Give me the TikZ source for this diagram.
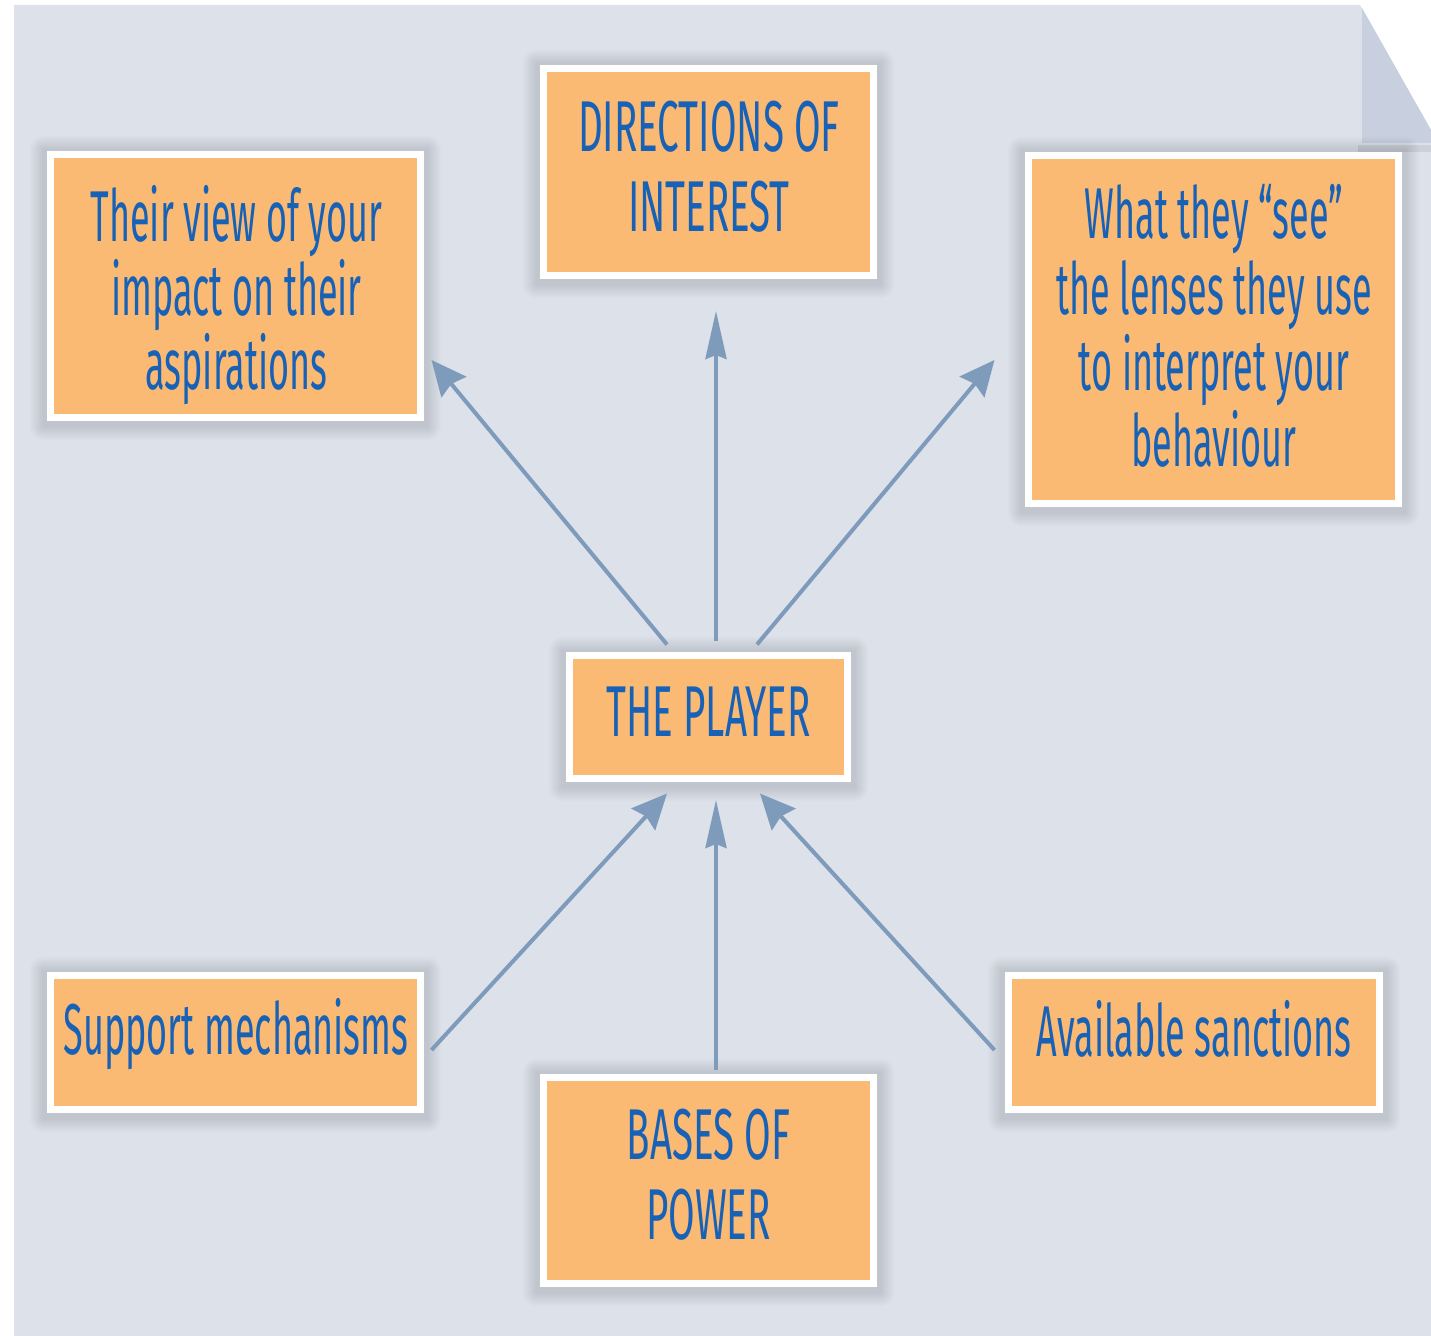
\documentclass[tikz,border=0pt]{standalone}
\usepackage{fontspec}
\setmainfont[FakeStretch=0.5]{Fira Sans}
\newfontfamily\capsfont[FakeStretch=0.535]{Fira Sans}
\usetikzlibrary{arrows.meta,calc}
\definecolor{panel}{HTML}{DCE1EA}
\definecolor{fold}{HTML}{C8D0DF}
\definecolor{boxfill}{HTML}{FBBA73}
\definecolor{ink}{HTML}{1761B6}
\definecolor{link}{HTML}{7E9BBC}
\pgfdeclarelayer{back}
\pgfdeclarelayer{shade}
\pgfsetlayers{back,shade,main}
% first line strut: the top of every text block lies 30pt above its first baseline
\newcommand{\firstline}{\rule{0pt}{30pt}}
% soft halo under a card: stacked translucent rectangles growing outwards
\newcommand{\softshadow}[1]{%
  \begin{pgfonlayer}{shade}
    \foreach \d in {1,...,14}{
      \fill[black, opacity=0.009, rounded corners={0.5pt*\d}]
        ($(#1.south west)+(-3.5-\d,5.5+\d)$) rectangle ($(#1.north east)+(3.5+\d,-1.5-\d)$);
    }
  \end{pgfonlayer}}
\tikzset{
  card/.style={draw=white, line width=3.5pt, fill=boxfill, inner sep=0pt},
  cardtext/.style={anchor=north, inner sep=0pt, align=center, text=ink},
  skip/.style={font=\fontsize{36pt}{#1}\selectfont},
  capskip/.style={font=\capsfont\fontsize{36pt}{#1}\selectfont},
  link/.style={draw=link, line width=2pt, -{Stealth[length=17.5pt,width=16pt,inset=2pt]}},
  vlink/.style={draw=link, line width=2pt, -{Stealth[length=24pt,width=10.5pt,inset=2pt]}}
}
\begin{document}
\begin{tikzpicture}[x=0.5pt,y=-0.5pt]
\useasboundingbox (0,0) rectangle (1431,1336);
% folded sheet behind the diagram
\begin{pgfonlayer}{back}
\fill[panel] (14,5) -- (1360,5) -- (1431,130) -- (1431,1336) -- (14,1336) -- cycle;
\fill[black, opacity=0.07] (1358,145) -- (1431,145) -- (1431,152) -- (1358,152) -- cycle;
\fill[fold] (1362,8) -- (1431,130) -- (1431,143) -- (1362,143) -- cycle;
\end{pgfonlayer}

% boxes (sizes in pt: half the outer pixel size minus the white frame)
\node[card, minimum width=185pt, minimum height=131.5pt] (tl) at (235.5,286) {};
\node[card, minimum width=165pt, minimum height=103.5pt] (tc) at (708.5,172) {};
\node[card, minimum width=185pt, minimum height=174pt]   (tr) at (1213.5,329.5) {};
\node[card, minimum width=139pt, minimum height=61.5pt]  (pl) at (708.5,717) {};
\node[card, minimum width=185pt, minimum height=67pt]    (bl) at (235.5,1042.5) {};
\node[card, minimum width=165pt, minimum height=103pt]   (bc) at (708.5,1180.5) {};
\node[card, minimum width=185.5pt, minimum height=67pt]  (br) at (1194,1042.5) {};
\softshadow{tl}\softshadow{tc}\softshadow{tr}\softshadow{pl}
\softshadow{bl}\softshadow{bc}\softshadow{br}

% box texts
\node[cardtext, skip=37pt] (tl-text) at ($(tl.center)+(1,-105)$)
  {\firstline Their view of your\\impact on their\\aspirations};
\node[cardtext, capskip=40pt] (tc-text) at ($(tc.center)+(0.5,-81)$)
  {\firstline DIRECTIONS OF\\INTEREST};
\node[cardtext, skip=38pt] (tr-text) at ($(tr.center)+(0.5,-151)$)
  {\firstline What they “see”\\the lenses they use\\to interpret your\\behaviour};
\node[cardtext, capskip=38pt] (pl-text) at ($(pl.center)+(0,-40.5)$)
  {\firstline THE PLAYER};
\node[cardtext, skip=38pt] (bl-text) at ($(bl.center)+(0.5,-48.5)$)
  {\firstline Support mechanisms};
\node[cardtext, capskip=40pt] (bc-text) at ($(bc.center)+(0,-81.5)$)
  {\firstline BASES OF\\POWER};
\node[cardtext, skip=38pt] (br-text) at ($(br.center)+(0,-46.5)$)
  {\firstline Available sanctions};

% outgoing links
\draw[link]  ($(pl.north)+(-41.5,-7.5)$) -- ($(tl.east)+(7.5,74)$);
\draw[vlink] ($(pl.north)+(7.5,-10.5)$)  -- ($(tc.south)+(7.5,32)$);
\draw[link]  ($(pl.north)+(48.5,-7.5)$)  -- ($(tr.west)+(-30.5,30.5)$);
% incoming links
\draw[link]  ($(bl.east)+(7.5,7.5)$)     -- ($(pl.south)+(-41.5,11.5)$);
\draw[vlink] ($(bc.north)+(7.5,-4.5)$)   -- ($(pl.south)+(7.5,18)$);
\draw[link]  ($(br.west)+(-10.5,7.5)$)   -- ($(pl.south)+(51.5,11.5)$);
\end{tikzpicture}
\end{document}
